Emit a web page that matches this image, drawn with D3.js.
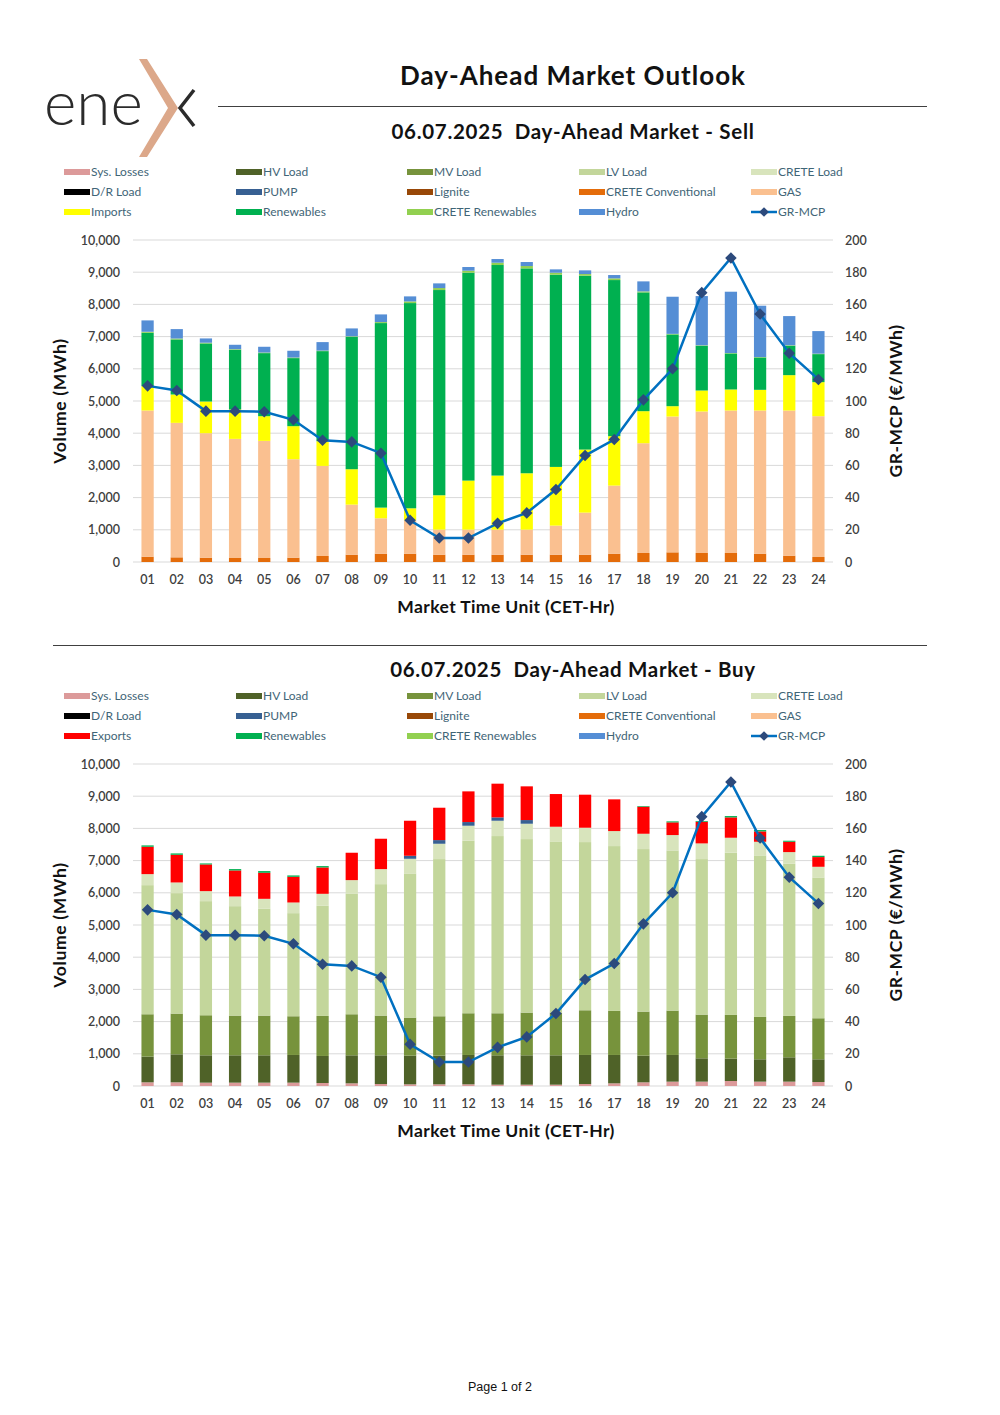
<!DOCTYPE html>
<html>
<head>
<meta charset="utf-8">
<script src="https://cdn.jsdelivr.net/npm/d3@7/dist/d3.min.js"></script>
<style>
  body { margin: 0; background: #fff; }
  svg { display: block; }
</style>
</head>
<body>
<svg id="page" width="1000" height="1415"></svg>
<script>
/***** Data *****/
var hours = ["01","02","03","04","05","06","07","08","09","10","11","12",
             "13","14","15","16","17","18","19","20","21","22","23","24"];

var volumeTicks = [0, 1000, 2000, 3000, 4000, 5000, 6000, 7000, 8000, 9000, 10000];
var priceTicks = [0, 20, 40, 60, 80, 100, 120, 140, 160, 180, 200];

// GR-MCP (€/MWh)
var mcp = [109.4, 106.5, 93.7, 93.7, 93.3, 88.3, 75.6, 74.6, 67.6, 25.9, 14.9, 14.9,
           24.0, 30.5, 45.0, 66.1, 76.1, 100.7, 120.0, 167.3, 188.8, 154.0, 129.7, 113.4];

// Sell side (MWh)
var sellCreteConv = [166, 145, 135, 124, 124, 135, 187, 228, 259, 259, 228, 228,
                     228, 228, 228, 228, 259, 280, 300, 280, 280, 259, 197, 155];
var sellGas = [4539, 4176, 3865, 3700, 3638, 3057, 2797, 1554, 1099, 1036, 777, 777,
               777, 777, 902, 1306, 2114, 3409, 4218, 4394, 4425, 4446, 4508, 4373];
var sellImports = [756, 881, 984, 912, 766, 1026, 767, 1099, 331, 373, 1068, 1523,
                   1679, 1751, 1823, 1958, 1534, 995, 321, 652, 653, 642, 1098, 1057];
var sellRenewables = [1658, 1710, 1804, 1855, 1959, 2114, 2798, 4114, 5731, 6373, 6373, 6456,
                      6539, 6363, 5969, 5399, 4849, 3689, 2228, 1389, 1119, 1005, 912, 871];
var sellCreteRen = [31, 28, 22, 19, 18, 18, 16, 15, 31, 52, 62, 63,
                    72, 73, 62, 52, 52, 31, 18, 15, 13, 13, 15, 14];
var sellHydro = [353, 293, 133, 136, 179, 210, 264, 244, 238, 156, 145, 114,
                 114, 124, 104, 114, 104, 311, 1153, 1529, 1904, 1594, 907, 701];

// Buy side (MWh)
var buySysLosses = [114, 114, 104, 104, 104, 104, 93, 83, 62, 52, 52, 52,
                    41, 41, 41, 62, 83, 114, 135, 135, 155, 135, 135, 124];
var buyHV = [798, 870, 849, 849, 849, 860, 840, 870, 891, 891, 891, 912,
             912, 912, 912, 902, 881, 829, 829, 725, 695, 694, 756, 705];
var buyMV = [1316, 1265, 1244, 1234, 1234, 1202, 1243, 1275, 1234, 1181, 1223, 1295,
             1306, 1327, 1327, 1388, 1368, 1368, 1378, 1358, 1357, 1316, 1285, 1275];
var buyLV = [4010, 3741, 3544, 3398, 3316, 3202, 3420, 3741, 4082, 4477, 4881, 5358,
             5503, 5388, 5316, 5223, 5119, 5047, 4974, 4829, 5037, 5016, 4726, 4373];
var buyCreteLoad = [342, 331, 311, 301, 310, 331, 373, 425, 467, 456, 476, 466,
                    476, 477, 456, 446, 466, 476, 477, 487, 466, 424, 362, 331];
var buyPump = [0, 0, 0, 0, 0, 0, 0, 0, 0, 93, 114, 114,
               104, 114, 0, 0, 0, 0, 0, 0, 0, 0, 0, 0];
var buyExports = [850, 860, 829, 808, 809, 798, 819, 850, 943, 1088, 1005, 953,
                  1047, 1047, 1015, 1026, 985, 840, 394, 673, 632, 322, 321, 301];
var buyRenewables = [42, 42, 31, 42, 52, 42, 41, 0, 0, 0, 0, 0,
                     0, 0, 0, 0, 0, 20, 31, 23, 41, 41, 32, 41];

/***** Colours *****/
var colors = {
    "Sys. Losses": "#dc9a9a", "HV Load": "#4f6228", "MV Load": "#77933c",
    "LV Load": "#c3d69b", "CRETE Load": "#d8e4bc", "D/R Load": "#000000",
    "PUMP": "#376092", "Lignite": "#984807", "CRETE Conventional": "#e46c0a",
    "GAS": "#fac090", "Imports": "#ffff00", "Exports": "#ff0000",
    "Renewables": "#00b050", "CRETE Renewables": "#92d050", "Hydro": "#558ed5"
};

var legendSell = ["Sys. Losses", "HV Load", "MV Load", "LV Load", "CRETE Load",
                  "D/R Load", "PUMP", "Lignite", "CRETE Conventional", "GAS",
                  "Imports", "Renewables", "CRETE Renewables", "Hydro", "GR-MCP"];
var legendBuy = ["Sys. Losses", "HV Load", "MV Load", "LV Load", "CRETE Load",
                 "D/R Load", "PUMP", "Lignite", "CRETE Conventional", "GAS",
                 "Exports", "Renewables", "CRETE Renewables", "Hydro", "GR-MCP"];

var titleFont = "'Lato', 'DejaVu Sans', sans-serif";
var svg = d3.select("#page");

/***** Header: logo + title *****/
var logo = svg.append("g");
logo.append("text")
    .attr("x", 44).attr("y", 125)
    .attr("font-family", "'Lato', 'DejaVu Sans', sans-serif")
    .attr("font-weight", 300)
    .attr("font-size", 62)
    .attr("fill", "#2b2b2b")
    .text("ene");
logo.append("path")
    .attr("d", "M139,59 L147,59 L178,108 L147,157 L139,157 L168,108 Z")
    .attr("fill", "#dca88a");
logo.append("path")
    .attr("d", "M194,90 L180,108 L194,126")
    .attr("fill", "none").attr("stroke", "#2b2b2b").attr("stroke-width", 3.5);

svg.append("text")
    .attr("x", 573).attr("y", 85)
    .attr("text-anchor", "middle")
    .attr("font-family", titleFont).attr("font-weight", "bold")
    .attr("font-size", 26).attr("letter-spacing", 1).attr("fill", "#111")
    .text("Day-Ahead Market Outlook");
svg.append("line")
    .attr("x1", 218).attr("x2", 927).attr("y1", 106.5).attr("y2", 106.5)
    .attr("stroke", "#404040").attr("stroke-width", 1.2);
svg.append("line")
    .attr("x1", 53).attr("x2", 927).attr("y1", 645.5).attr("y2", 645.5)
    .attr("stroke", "#404040").attr("stroke-width", 1.2);

svg.append("text")
    .attr("x", 500).attr("y", 1391)
    .attr("text-anchor", "middle")
    .attr("font-family", "'Liberation Sans', Arial, sans-serif")
    .attr("font-size", 12.5).attr("fill", "#111")
    .text("Page 1 of 2");

/***** One chart block *****/
function drawChart(opts) {
    var top = opts.top;                    // legend reference line
    var plotTop = top + 109, plotBottom = top + 431;
    var left = 133, right = 833;

    svg.append("text")
        .attr("x", 573).attr("y", opts.titleY)
        .attr("text-anchor", "middle")
        .attr("font-family", titleFont).attr("font-weight", "bold")
        .attr("font-size", 20.5).attr("letter-spacing", 0.7).attr("fill", "#111")
        .style("white-space", "pre")
        .text(opts.title);

    /***** Legend *****/
    var legendX = [64, 236, 407, 579, 751];
    var lg = svg.append("g").selectAll("g")
        .data(opts.legend)
        .enter().append("g")
        .attr("transform", function(d, i) {
            return "translate(" + legendX[i % 5] + "," + (top + 41 + Math.floor(i / 5) * 20) + ")";
        });
    lg.each(function(d) {
        var g = d3.select(this);
        if (d == "GR-MCP") {
            g.append("line").attr("x1", 0).attr("x2", 26).attr("y1", 0).attr("y2", 0)
                .attr("stroke", "#0070c0").attr("stroke-width", 2.5);
            g.append("path").attr("d", d3.symbol().type(d3.symbolDiamond2).size(60)())
                .attr("transform", "translate(13,0)").attr("fill", "#2c4a7c");
        } else {
            g.append("rect").attr("x", 0).attr("y", -3).attr("width", 26).attr("height", 6)
                .attr("fill", colors[d]);
        }
    });
    lg.append("text")
        .attr("x", 27).attr("y", 0).attr("dy", "0.35em")
        .attr("font-family", "'Lato', 'DejaVu Sans', sans-serif")
        .attr("font-size", 12).attr("fill", "#3f6577")
        .text(function(d) { return d; });

    /***** Scales *****/
    var x = d3.scaleBand().domain(hours).range([left, right]).paddingInner(0.58).paddingOuter(0.29);
    var y = d3.scaleLinear().domain([0, 10000]).range([plotBottom, plotTop]);
    var y2 = d3.scaleLinear().domain([0, 200]).range([plotBottom, plotTop]);

    var g = svg.append("g");

    // gridlines
    g.append("g").selectAll("line")
        .data(volumeTicks)
        .enter().append("line")
        .attr("x1", left).attr("x2", right)
        .attr("y1", function(d) { return y(d); }).attr("y2", function(d) { return y(d); })
        .attr("stroke", "#d9d9d9").attr("stroke-width", 1);

    /***** Stacked bars *****/
    var rows = hours.map(function(h, i) {
        var r = { hour: h };
        opts.series.forEach(function(s) { r[s.key] = s.values[i]; });
        return r;
    });
    var stack = d3.stack().keys(opts.series.map(function(s) { return s.key; }))(rows);

    g.append("g").selectAll("g")
        .data(stack)
        .enter().append("g")
        .attr("fill", function(d) { return colors[d.key]; })
        .selectAll("rect")
        .data(function(d) { return d; })
        .enter().append("rect")
        .attr("x", function(d) { return x(d.data.hour); })
        .attr("width", x.bandwidth())
        .attr("y", function(d) { return y(d[1]); })
        .attr("height", function(d) { return Math.max(0, y(d[0]) - y(d[1])); });

    /***** Axes *****/
    var tickFont = "'Lato', 'DejaVu Sans', sans-serif";
    var yAxis = g.append("g")
        .attr("transform", "translate(" + (left - 10) + ",0)")
        .call(d3.axisLeft(y).tickValues(volumeTicks).tickSize(0).tickFormat(d3.format(",")));
    var y2Axis = g.append("g")
        .attr("transform", "translate(" + (right + 12) + ",0)")
        .call(d3.axisRight(y2).tickValues(priceTicks).tickSize(0));
    var xAxis = g.append("g")
        .attr("transform", "translate(0," + (plotBottom + 10) + ")")
        .call(d3.axisBottom(x).tickSize(0));
    [yAxis, y2Axis, xAxis].forEach(function(a) {
        a.select(".domain").remove();
        a.selectAll("text")
            .attr("font-family", tickFont).attr("font-size", 12.5)
            .attr("fill", "#404040").attr("font-weight", 600);
    });
    y2Axis.selectAll("text").attr("x", 0);

    /***** GR-MCP line *****/
    var line = d3.line()
        .x(function(d, i) { return x(hours[i]) + x.bandwidth() / 2; })
        .y(function(d) { return y2(d); });
    g.append("path")
        .datum(mcp)
        .attr("d", line)
        .attr("fill", "none").attr("stroke", "#0070c0").attr("stroke-width", 2.5);
    g.append("g").selectAll("path")
        .data(mcp)
        .enter().append("path")
        .attr("d", d3.symbol().type(d3.symbolDiamond2).size(85)())
        .attr("transform", function(d, i) {
            return "translate(" + (x(hours[i]) + x.bandwidth() / 2) + "," + y2(d) + ")";
        })
        .attr("fill", "#2c4a7c");

    /***** Axis titles *****/
    var mid = (plotTop + plotBottom) / 2;
    g.append("text")
        .attr("transform", "translate(66," + mid + ") rotate(-90)")
        .attr("text-anchor", "middle")
        .attr("font-family", titleFont).attr("font-weight", "bold")
        .attr("font-size", 17.5).attr("letter-spacing", 0.7).attr("fill", "#111")
        .text("Volume (MWh)");
    g.append("text")
        .attr("transform", "translate(902," + mid + ") rotate(-90)")
        .attr("text-anchor", "middle")
        .attr("font-family", titleFont).attr("font-weight", "bold")
        .attr("font-size", 17.5).attr("letter-spacing", 0.55).attr("fill", "#111")
        .text("GR-MCP (€/MWh)");
    g.append("text")
        .attr("x", 506).attr("y", plotBottom + 51)
        .attr("text-anchor", "middle")
        .attr("font-family", titleFont).attr("font-weight", "bold")
        .attr("font-size", 17.5).attr("letter-spacing", 0.4).attr("fill", "#111")
        .text("Market Time Unit (CET-Hr)");
}

drawChart({
    top: 131,
    titleY: 139,
    title: "06.07.2025  Day-Ahead Market - Sell",
    legend: legendSell,
    series: [
        { key: "CRETE Conventional", values: sellCreteConv },
        { key: "GAS", values: sellGas },
        { key: "Imports", values: sellImports },
        { key: "Renewables", values: sellRenewables },
        { key: "CRETE Renewables", values: sellCreteRen },
        { key: "Hydro", values: sellHydro }
    ]
});

drawChart({
    top: 655,
    titleY: 677,
    title: "06.07.2025  Day-Ahead Market - Buy",
    legend: legendBuy,
    series: [
        { key: "Sys. Losses", values: buySysLosses },
        { key: "HV Load", values: buyHV },
        { key: "MV Load", values: buyMV },
        { key: "LV Load", values: buyLV },
        { key: "CRETE Load", values: buyCreteLoad },
        { key: "PUMP", values: buyPump },
        { key: "Exports", values: buyExports },
        { key: "Renewables", values: buyRenewables }
    ]
});
</script>
</body>
</html>
